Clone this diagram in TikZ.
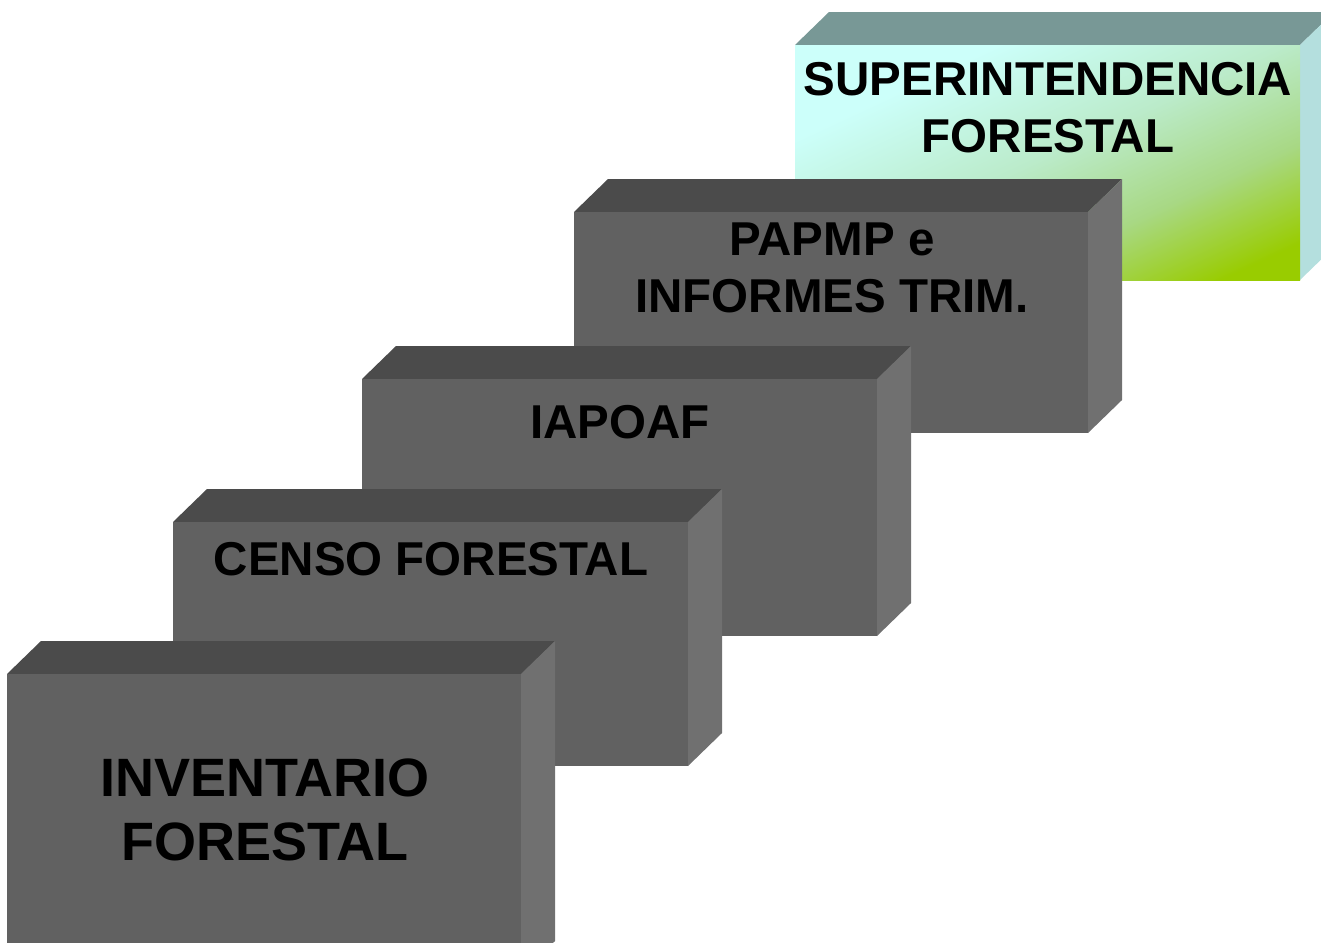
\documentclass[tikz,border=0pt]{standalone}
\usepackage{fontspec}
\setmainfont{Liberation Sans}

\definecolor{frontgray}{HTML}{616161}
\definecolor{topgray}{HTML}{4B4B4B}
\definecolor{sidegray}{HTML}{707070}
\definecolor{icecyan}{HTML}{CCFFFA}
\definecolor{mintmid}{HTML}{BBEBCA}
\definecolor{grassmid}{HTML}{A8D884}
\definecolor{leafgreen}{HTML}{99CC00}
\definecolor{tealtop}{HTML}{789896}
\definecolor{tealside}{HTML}{B4DFDE}

\pgfdeclareverticalshading{leafshade}{100bp}{color(0bp)=(leafgreen); color(22bp)=(leafgreen); color(36bp)=(grassmid); color(51bp)=(mintmid); color(70bp)=(icecyan); color(100bp)=(icecyan)}

\tikzset{
	grey front/.style={fill=frontgray},
	grey top/.style={fill=topgray},
	grey side/.style={fill=sidegray},
	leaf front/.style={shading=leafshade, shading angle=25},
	leaf top/.style={fill=tealtop},
	leaf side/.style={fill=tealside},
	txt/.style={anchor=north, inner sep=0pt, align=center,
		font=\bfseries\fontsize{23.75}{28.5}\selectfont},
	bigtxt/.style={txt, font=\bfseries\fontsize{27}{32}\selectfont}
}

% slab: [look] {x}{y}{width}{height} of the front face, depth 34 by 33
\newcommand{\slab}[5][grey]{%
	\path[#1 top] (#2,#3) -- ++(34,-33) -- ++(#4,0) -- ++(-34,33) -- cycle;
	\path[#1 side] (#2+#4,#3) -- ++(34,-33) -- ++(0,#5) -- ++(-34,33) -- cycle;
	\path[#1 front] (#2,#3) rectangle ++(#4,#5);
}

\begin{document}
\begin{tikzpicture}[x=0.5pt, y=-0.5pt]
	\useasboundingbox (0,0) rectangle (1321,942);

	\slab[leaf]{795}{45}{505}{235}
	\slab{574}{212}{514}{221}
	\slab{362}{379}{515}{257}
	\slab{173}{522}{515}{244}
	\slab{7}{674}{514}{300}

	\node (super) [txt] at (1048,62) {SUPERINTENDENCIA\\FORESTAL};
	\node (papmp) [txt] at (832,222) {PAPMP e\\INFORMES TRIM.};
	\node (iapoaf) [txt] at (620,405) {IAPOAF};
	\node (censo) [txt] at (431,542) {CENSO FORESTAL};
	\node (inv) [bigtxt] at (265,758) {INVENTARIO\\FORESTAL};
\end{tikzpicture}
\end{document}
